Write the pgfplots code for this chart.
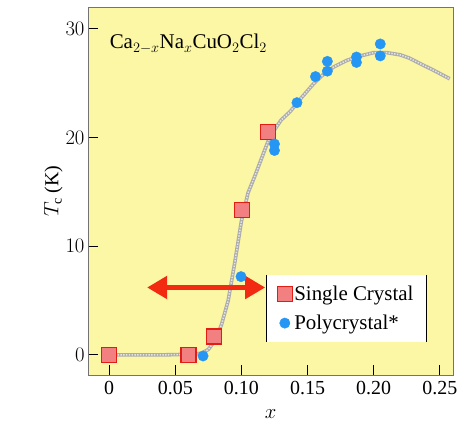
\documentclass[border=0pt]{standalone}
\usepackage{pgfplots}
\usepackage{pgfplotstable}
\pgfplotsset{compat=1.18}
\usepackage{fontspec}
\setmainfont{Liberation Serif}
\usetikzlibrary{arrows.meta}
\definecolor{bgyellow}{RGB}{251,247,164}
\definecolor{sqfill}{RGB}{242,128,128}
\definecolor{sqedge}{RGB}{226,30,20}
\definecolor{dotblue}{RGB}{38,150,245}
\definecolor{arrred}{RGB}{242,42,18}

\pgfplotstableread{
x y
0.000 0.0
0.020 0.0
0.040 0.0
0.060 0.05
0.070 0.15
0.075 0.5
0.080 1.3
0.085 2.8
0.090 5.0
0.095 8.5
0.100 12.3
0.105 14.9
0.110 16.4
0.115 18.0
0.120 19.6
0.125 20.7
0.130 21.6
0.137 22.4
0.145 23.6
0.155 25.0
0.162 25.8
0.170 26.5
0.180 27.1
0.190 27.5
0.200 27.8
0.210 27.8
0.220 27.6
0.227 27.3
0.235 26.8
0.245 26.2
0.2575 25.4
}\fitcurve

\pgfplotstableread{
x y
0.000 0.0
0.060 0.0
0.079 1.7
0.1005 13.3
0.120 20.5
}\single

\pgfplotstableread{
x y
0.071 -0.1
0.0997 7.2
0.125 19.4
0.125 18.8
0.142 23.2
0.156 25.6
0.165 26.1
0.165 27.0
0.187 26.9
0.187 27.4
0.205 28.6
0.205 27.5
}\poly

\begin{document}
\begin{tikzpicture}
\begin{axis}[
  at={(88bp,57bp)}, anchor=south west,
  scale only axis, width=365bp, height=368bp,
  xmin=-0.016, xmax=0.26, ymin=-1.85, ymax=32,
  axis background/.style={fill=bgyellow},
  axis line style={draw=black!55, line width=0.9bp},
  xtick={0,0.05,0.10,0.15,0.20,0.25},
  xticklabels={0,0.05,0.10,0.15,0.20,0.25},
  ytick={0,10,20,30},
  tick align=inside,
  xtick pos=bottom, ytick pos=left,
  tick style={black, line width=1bp},
  major tick length=10bp,
  tick label style={font=\fontsize{20}{24}\selectfont},
  xticklabel style={yshift=-3bp},
  xlabel={$x$}, ylabel={$T_{\mathrm{c}}$ (K)},
  label style={font=\fontsize{20}{24}\selectfont},
  xlabel style={yshift=-8bp},
  ylabel style={yshift=-4bp},
  legend style={at={(0.488,0.272)}, anchor=north west, draw=none, fill=white,
     font=\fontsize{21}{25}\selectfont, row sep=9bp, inner xsep=11bp, inner ysep=9bp,
     name=leg},
  legend cell align=left,
  clip=false,
]
\addplot[gray!65, line width=3.6bp, forget plot] table {\fitcurve};
\addplot[white!80!gray, line width=1.5bp, dash pattern=on 1.4bp off 1.4bp, forget plot] table {\fitcurve};
\addplot[arrred, line width=5bp, {Triangle[length=20bp,width=22bp]}-{Triangle[length=20bp,width=22bp]}, forget plot] coordinates {(0.0287,6.2) (0.118,6.2)};
\addplot[only marks, mark=square*, mark size=7.5bp, mark options={fill=sqfill, draw=sqedge, line width=1.2bp}] table {\single};
\addlegendentry{Single Crystal}
\addplot[only marks, mark=*, mark size=5.2bp, mark options={fill=dotblue, draw=dotblue}] table {\poly};
\addlegendentry{Polycrystal*}
\node[anchor=west, font=\fontsize{21}{24}\selectfont] at (rel axis cs:0.05,0.9) {Ca$_{2-x}$Na$_x$CuO$_2$Cl$_2$};
\end{axis}
\draw[black, line width=1.2bp] (leg.north west) -- (leg.south west);
\draw[black, line width=1.2bp] (leg.north east) -- (leg.south east);
\pgfresetboundingbox
\path (0,0) rectangle (464bp,432bp);
\end{tikzpicture}
\end{document}
